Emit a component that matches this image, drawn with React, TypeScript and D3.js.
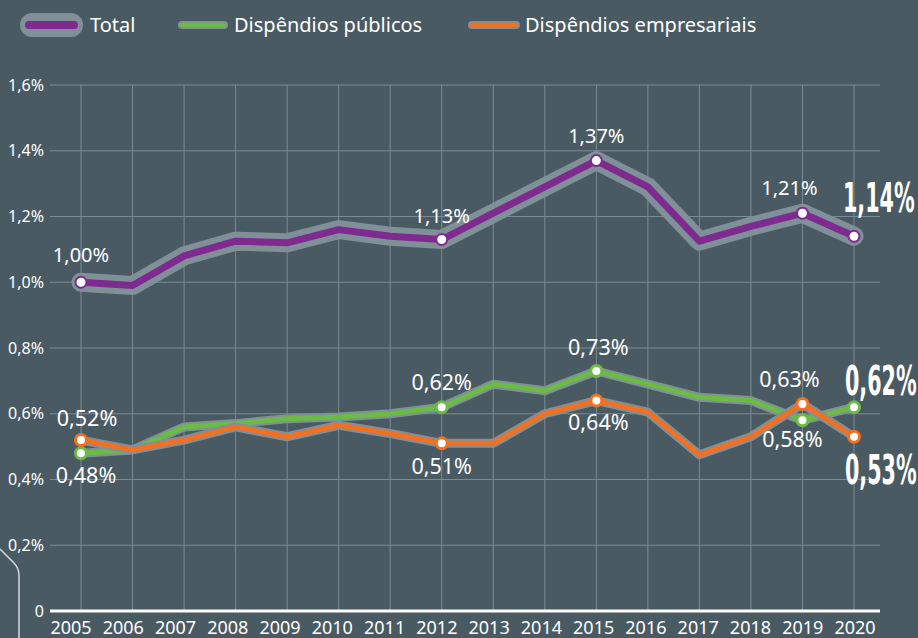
import React from "react";
import * as d3 from "d3";

const years = [2005, 2006, 2007, 2008, 2009, 2010, 2011, 2012, 2013, 2014, 2015, 2016, 2017, 2018, 2019, 2020];
const total = [1.0, 0.99, 1.08, 1.125, 1.12, 1.16, 1.14, 1.13, 1.21, 1.29, 1.37, 1.29, 1.125, 1.17, 1.21, 1.14];
const publico = [0.48, 0.49, 0.56, 0.57, 0.585, 0.59, 0.6, 0.62, 0.69, 0.67, 0.73, 0.69, 0.65, 0.64, 0.58, 0.62];
const empresarial = [0.52, 0.49, 0.52, 0.56, 0.53, 0.565, 0.54, 0.51, 0.51, 0.6, 0.64, 0.605, 0.475, 0.53, 0.63, 0.53];
const yTicks = [0, 0.2, 0.4, 0.6, 0.8, 1.0, 1.2, 1.4, 1.6];
const yTickLabels = ["0", "0,2%", "0,4%", "0,6%", "0,8%", "1,0%", "1,2%", "1,4%", "1,6%"];
const markedYears = [2005, 2012, 2015, 2019, 2020];
const legendLabels = ["Total", "Dispêndios públicos", "Dispêndios empresariais"];
const finalLabels = ["1,14%", "0,62%", "0,53%"];

const totalLabels = [
  { year: 2005, text: "1,00%", dx: 0, dy: -20 },
  { year: 2012, text: "1,13%", dx: 0, dy: -17 },
  { year: 2015, text: "1,37%", dx: 0, dy: -18 },
  { year: 2019, text: "1,21%", dx: -13, dy: -18 },
];
const publicoLabels = [
  { year: 2005, text: "0,48%", dx: 5, dy: 30 },
  { year: 2012, text: "0,62%", dx: 0, dy: -17 },
  { year: 2015, text: "0,73%", dx: 2, dy: -16 },
  { year: 2019, text: "0,58%", dx: -10, dy: 27 },
];
const empresarialLabels = [
  { year: 2005, text: "0,52%", dx: 6, dy: -14 },
  { year: 2012, text: "0,51%", dx: 0, dy: 31 },
  { year: 2015, text: "0,64%", dx: 2, dy: 29 },
  { year: 2019, text: "0,63%", dx: -13, dy: -17 },
];

const W = 918;
const H = 638;
const BG = "#4a5a63";
const GRID = "#7a8b94";
const HALO = "#7f9099";
const PURPLE = "#7e2a8f";
const GREEN = "#6cbb45";
const ORANGE = "#f27022";
const FONT = "'Noto Sans', 'Open Sans', sans-serif";
const COND = "'DejaVu Sans Condensed', 'Liberation Sans Narrow', 'Roboto', sans-serif";

export default function App() {
  const x = d3.scaleLinear().domain([2005, 2020]).range([81, 854]);
  const xLab = d3.scaleLinear().domain([2005, 2020]).range([71, 855]);
  const y = d3.scaleLinear().domain([0, 1.6]).range([611, 85]);
  const line = d3
    .line<number>()
    .x((_, i) => x(years[i]))
    .y((d) => y(d));

  const idx = (yr: number) => years.indexOf(yr);

  const series = [
    { data: publico, color: GREEN, halo: 9, w: 5, labels: publicoLabels },
    { data: empresarial, color: ORANGE, halo: 9, w: 5, labels: empresarialLabels },
  ];

  const finalPos = [
    { x: 843, y: 212 },
    { x: 845, y: 395 },
    { x: 845, y: 484 },
  ];

  return (
    <div style={{ position: "fixed", left: 0, top: 0, width: W, height: H, overflow: "hidden" }}>
      <svg width={W} height={H} style={{ display: "block", background: BG }}>
        <rect width={W} height={H} fill={BG} />
        {/* legend */}
        <g>
          <rect x={20} y={13} width={63} height={24} rx={12} fill={HALO} />
          <line x1={29} x2={74} y1={25} y2={25} stroke={PURPLE} strokeWidth={8} strokeLinecap="round" />
          <text x={90} y={32} fill="#fff" fontSize={20} fontFamily={FONT}>{legendLabels[0]}</text>
          <line x1={182} x2={224} y1={25} y2={25} stroke={HALO} strokeWidth={8} strokeLinecap="round" />
          <line x1={182} x2={224} y1={25} y2={25} stroke={GREEN} strokeWidth={4.5} strokeLinecap="round" />
          <text x={234} y={32} fill="#fff" fontSize={20} fontFamily={FONT}>{legendLabels[1]}</text>
          <line x1={472} x2={516} y1={25} y2={25} stroke={HALO} strokeWidth={8} strokeLinecap="round" />
          <line x1={472} x2={516} y1={25} y2={25} stroke={ORANGE} strokeWidth={4.5} strokeLinecap="round" />
          <text x={525} y={32} fill="#fff" fontSize={20} fontFamily={FONT}>{legendLabels[2]}</text>
        </g>
        {/* grid */}
        {years.map((yr) => (
          <line key={"v" + yr} x1={x(yr)} x2={x(yr)} y1={y(1.6)} y2={y(0)} stroke={GRID} strokeWidth={1} />
        ))}
        {yTicks.map((t, i) => (
          <g key={"h" + t}>
            {t > 0 && <line x1={50} x2={880} y1={y(t)} y2={y(t)} stroke={GRID} strokeWidth={1} />}
            <text x={44} y={y(t) + 5.5} fill="#fff" fontSize={16} textAnchor="end" fontFamily={FONT}>
              {yTickLabels[i]}
            </text>
          </g>
        ))}
        <line x1={50} x2={880} y1={y(0)} y2={y(0)} stroke="#fff" strokeWidth={3} />
        {years.map((yr) => (
          <text key={"xl" + yr} x={xLab(yr)} y={634} fill="#fff" fontSize={18} textAnchor="middle" fontFamily={FONT}>
            {yr}
          </text>
        ))}
        {/* decorative curve */}
        <path d="M0,549 L14,563 Q19,568 19,576 L19,638" fill="none" stroke="#d5dbde" strokeWidth={1.5} />
        {/* total */}
        <path d={line(total) || ""} fill="none" stroke={HALO} strokeWidth={19} strokeLinejoin="round" strokeLinecap="round" />
        <path d={line(total) || ""} fill="none" stroke={PURPLE} strokeWidth={7} strokeLinejoin="round" strokeLinecap="round" />
        {/* public & business */}
        {series.map((s, k) => (
          <g key={"s" + k}>
            <path d={line(s.data) || ""} fill="none" stroke={HALO} strokeWidth={s.halo} strokeLinejoin="round" />
            <path d={line(s.data) || ""} fill="none" stroke={s.color} strokeWidth={s.w} strokeLinejoin="round" />
          </g>
        ))}
        {/* markers */}
        {markedYears.map((yr) => (
          <circle key={"mt" + yr} cx={x(yr)} cy={y(total[idx(yr)])} r={5.5} fill="#fff" stroke={PURPLE} strokeWidth={2} />
        ))}
        {series.map((s, k) =>
          markedYears.map((yr) => (
            <circle key={"m" + k + yr} cx={x(yr)} cy={y(s.data[idx(yr)])} r={5.5} fill="#fff" stroke={s.color} strokeWidth={3} />
          ))
        )}
        {/* labels */}
        {totalLabels.map((l) => (
          <text key={"tl" + l.year} x={x(l.year) + l.dx} y={y(total[idx(l.year)]) + l.dy} fill="#fff" fontSize={20} textAnchor="middle" fontFamily={FONT}>
            {l.text}
          </text>
        ))}
        {series.map((s, k) =>
          s.labels.map((l) => (
            <text key={"sl" + k + l.year} x={x(l.year) + l.dx} y={y(s.data[idx(l.year)]) + l.dy} fill="#fff" fontSize={21.5} textAnchor="middle" fontFamily={FONT}>
              {l.text}
            </text>
          ))
        )}
        {/* final big labels */}
        {finalLabels.map((t, i) => (
          <g key={"f" + i} transform={`translate(${finalPos[i].x},${finalPos[i].y}) scale(0.56,1)`}>
            <text x={0} y={0} fill="#fff" fontSize={41} fontWeight="bold" fontFamily={COND}>
              {t}
            </text>
          </g>
        ))}
      </svg>
    </div>
  );
}
